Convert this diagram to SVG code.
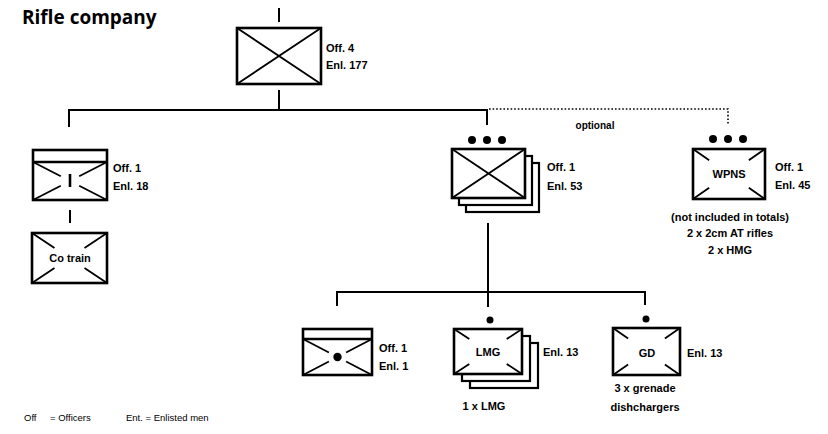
<svg xmlns="http://www.w3.org/2000/svg" width="828" height="434" viewBox="0 0 828 434">
<style>
.box{fill:#fff;stroke:#000;stroke-width:2.6}
.x{stroke:#000;stroke-width:1.8;fill:none}
.ln{stroke:#000;stroke-width:2;fill:none}
.dot{stroke:#000;stroke-width:1.6;fill:none;stroke-dasharray:1.6 2}
.lbl{font-family:"Liberation Sans",Arial,sans-serif;font-weight:bold;font-size:11px;fill:#000}
.mid{text-anchor:middle}
.ft{font-family:"Liberation Sans",Arial,sans-serif;font-size:9.5px;fill:#000}
.title{font-family:"Open Sans",Lato,sans-serif;font-weight:bold;font-size:19px;fill:#000}
</style>
<rect width="828" height="434" fill="#fff"/>
<text class="title" x="22" y="24">Rifle company</text>

<g id="connectors">
<line class="ln" x1="279" y1="8" x2="279" y2="22"/>
<line class="ln" x1="279" y1="90" x2="279" y2="110"/>
<polyline class="ln" points="69,127 69,110 487,110 487,125"/>
<polyline class="dot" points="489,109 728,109 728,125"/>
<line class="ln" x1="70" y1="210" x2="70" y2="223"/>
<line class="ln" x1="488" y1="223" x2="488" y2="307"/>
<polyline class="ln" points="337,306 337,292 645,292 645,305"/>
</g>

<g id="company-hq">
<rect class="box" x="237" y="28" width="84" height="56"/>
<path class="x" d="M237,28L321,84M321,28L237,84"/>
<text class="lbl" x="326" y="52">Off. 4</text>
<text class="lbl" x="326" y="69">Enl. 177</text>
</g>

<g id="hq-section">
<rect class="box" x="33" y="150" width="74" height="50"/>
<line class="x" x1="33" y1="162" x2="107" y2="162" style="stroke-width:2.4"/>
<path class="x" d="M33,162L60.8,176.3M107,162L79.2,176.3M33,200L60.8,185.7M107,200L79.2,185.7"/>
<line class="ln" x1="70" y1="174" x2="70" y2="187" style="stroke-width:2.6"/>
<text class="lbl" x="113" y="172">Off. 1</text>
<text class="lbl" x="113" y="190">Enl. 18</text>
</g>

<g id="co-train">
<rect class="box" x="32" y="233" width="75" height="50"/>
<path class="x" d="M32,233L54.5,248M107,233L84.5,248M32,283L54.5,268M107,283L84.5,268"/>
<text class="lbl mid" x="70" y="262">Co train</text>
</g>

<g id="platoon">
<circle cx="472" cy="140" r="4"/>
<circle cx="487" cy="140" r="4"/>
<circle cx="502" cy="140" r="4"/>
<rect class="box" x="466" y="163" width="73" height="49" style="stroke-width:2.2"/>
<rect class="box" x="459" y="156" width="73" height="49" style="stroke-width:2.2"/>
<rect class="box" x="452" y="149" width="73" height="49"/>
<path class="x" d="M452,149L525,198M525,149L452,198"/>
<text class="lbl" x="547" y="171">Off. 1</text>
<text class="lbl" x="547" y="190">Enl. 53</text>
</g>

<g id="weapons-platoon">
<text class="lbl mid" x="595" y="129" style="font-size:10px">optional</text>
<circle cx="713" cy="139" r="4"/>
<circle cx="728" cy="139" r="4"/>
<circle cx="743" cy="139" r="4"/>
<rect class="box" x="693" y="149" width="72" height="50"/>
<path class="x" d="M693,149L709.2,160.3M765,149L748.8,160.3M693,199L709.2,187.8M765,199L748.8,187.8"/>
<text class="lbl mid" x="729" y="178">WPNS</text>
<text class="lbl" x="775" y="171">Off. 1</text>
<text class="lbl" x="775" y="189">Enl. 45</text>
<text class="lbl mid" x="730" y="221">(not included in totals)</text>
<text class="lbl mid" x="730" y="237">2 x 2cm AT rifles</text>
<text class="lbl mid" x="730" y="254">2 x HMG</text>
</g>

<g id="platoon-hq">
<rect class="box" x="303" y="329" width="69" height="46"/>
<line class="x" x1="303" y1="339" x2="372" y2="339" style="stroke-width:2.4"/>
<path class="x" d="M303,339L328.9,352.5M372,339L346.1,352.5M303,375L328.9,361.5M372,375L346.1,361.5"/>
<circle cx="337.5" cy="357" r="4.2"/>
<text class="lbl" x="379" y="352">Off. 1</text>
<text class="lbl" x="379" y="370">Enl. 1</text>
</g>

<g id="lmg-squad">
<circle cx="490" cy="320" r="3.5"/>
<rect class="box" x="470" y="343" width="68" height="45" style="stroke-width:2.2"/>
<rect class="box" x="462" y="336" width="68" height="45" style="stroke-width:2.2"/>
<rect class="box" x="454" y="329" width="68" height="45"/>
<path class="x" d="M454,329L469.3,339.1M522,329L506.7,339.1M454,374L469.3,363.9M522,374L506.7,363.9"/>
<text class="lbl mid" x="488" y="356">LMG</text>
<text class="lbl" x="543" y="356">Enl. 13</text>
<text class="lbl mid" x="484" y="410">1 x LMG</text>
</g>

<g id="gd-squad">
<circle cx="646" cy="319" r="3.5"/>
<rect class="box" x="613" y="328" width="67" height="47"/>
<path class="x" d="M613,328L628.1,338.6M680,328L664.9,338.6M613,375L628.1,364.4M680,375L664.9,364.4"/>
<text class="lbl mid" x="647" y="357">GD</text>
<text class="lbl" x="687" y="357">Enl. 13</text>
<text class="lbl mid" x="645" y="392">3 x grenade</text>
<text class="lbl mid" x="645" y="411">dishchargers</text>
</g>

<g id="legend">
<text class="ft" x="24" y="421">Off</text>
<text class="ft" x="50" y="421">= Officers</text>
<text class="ft" x="126" y="421">Ent. = Enlisted men</text>
</g>
</svg>
